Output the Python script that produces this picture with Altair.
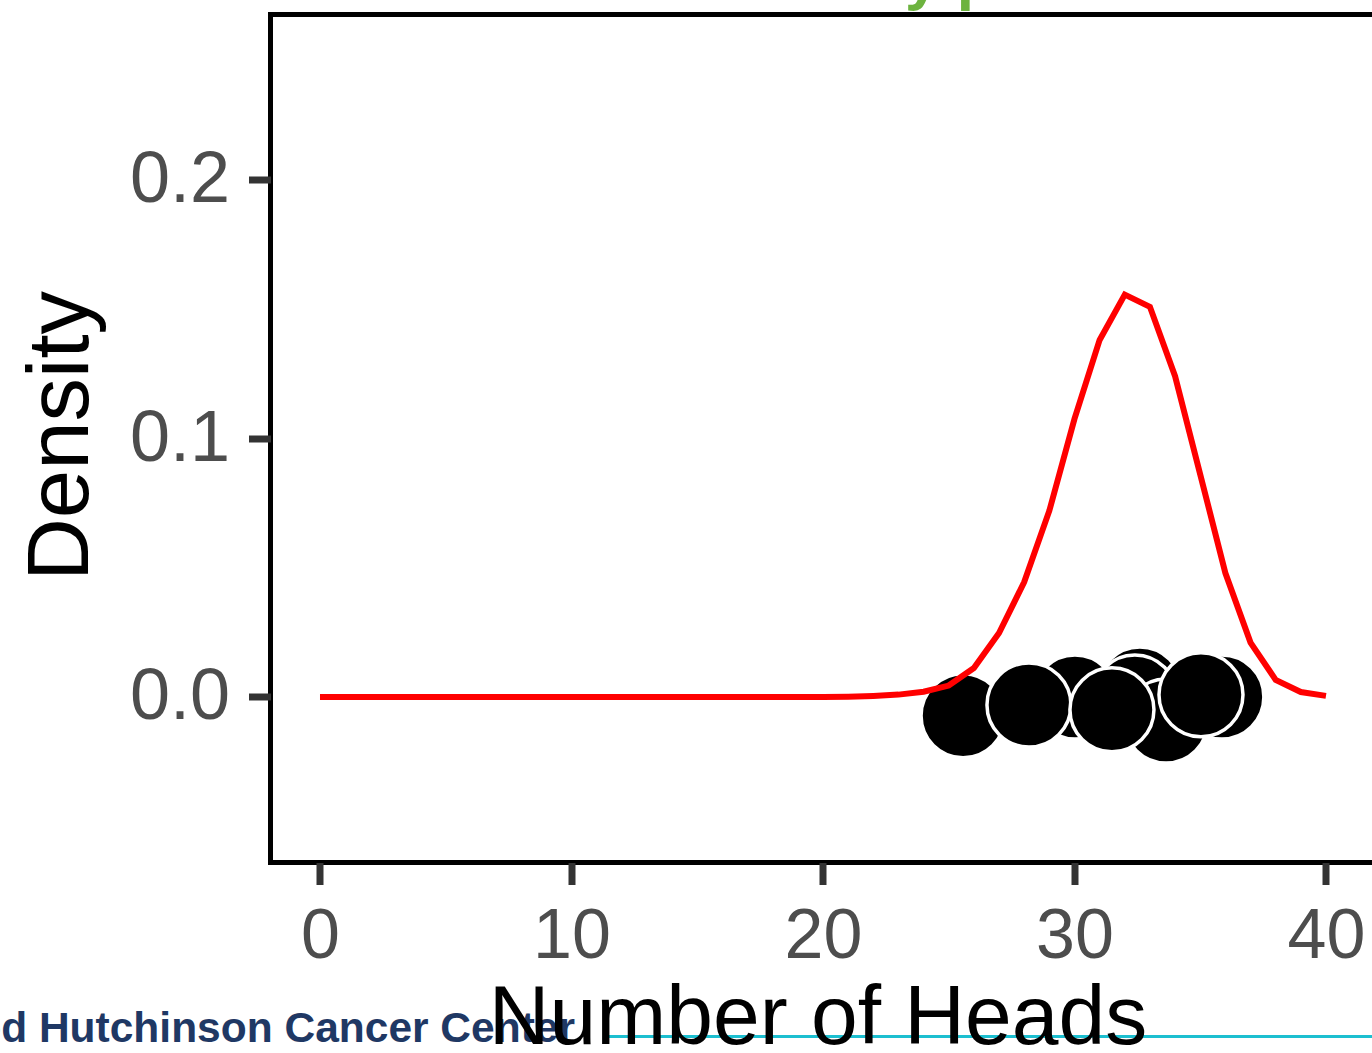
import altair as alt
import pandas as pd

# ---- data ----
heads = list(range(0, 41))
density = [0.0, 0.0, 0.0, 0.0, 0.0, 0.0, 0.0, 0.0, 0.0, 0.0,
           0.0, 0.0, 0.0, 0.0, 0.0, 0.0, 0.0, 0.0, 0.0, 0.0,
           0.0, 0.0001, 0.0004, 0.0009, 0.002, 0.0044, 0.0112, 0.0247, 0.0444, 0.072,
           0.1075, 0.138, 0.1555, 0.1508, 0.124, 0.086, 0.0479, 0.021, 0.0066, 0.0019,
           0.0004]

obs_x = [25.57, 30.02, 32.6, 32.4, 33.64, 35.86, 28.19, 31.49, 35.03]
obs_y = [-0.0073, 0.0, 0.0031, 0.0, -0.0093, 0.0, -0.0031, -0.005, 0.0008]

x_ticks = [0, 10, 20, 30, 40]
y_ticks = [0.0, 0.1, 0.2]
x_domain = [-1.968, 41.83]
y_domain = [-0.064, 0.2638]

x_title = "Number of Heads"
y_title = "Density"
footer_text = "Fred Hutchinson Cancer Center"
title_fragment = "y p"

W = 1101.5
H = 848.0
FONT = "Liberation Sans"

dens_df = pd.DataFrame({"heads": heads, "density": density})
obs_df = pd.DataFrame({"heads": obs_x, "density": obs_y})

xscale = alt.Scale(domain=x_domain, nice=False, zero=False)
yscale = alt.Scale(domain=y_domain, nice=False, zero=False)

xaxis = alt.Axis(values=x_ticks, format="d", grid=False, domain=False,
                 labelFont=FONT, labelFontSize=70, labelColor="#4d4d4d",
                 labelPadding=18, tickColor="#333333", tickWidth=7, tickSize=22,
                 title=x_title, titleFont=FONT, titleFontSize=84,
                 titleFontWeight="normal", titleColor="black",
                 titleX=547, titleY=181, titleBaseline="alphabetic",
                 titleAlign="center", zindex=1)
yaxis = alt.Axis(values=y_ticks, format=".1f", grid=False, domain=False,
                 labelFont=FONT, labelFontSize=72, labelColor="#4d4d4d",
                 labelPadding=19, tickColor="#333333", tickWidth=7, tickSize=22,
                 title=y_title, titleFont=FONT, titleFontSize=87,
                 titleFontWeight="normal", titleColor="black",
                 titleAngle=270, titleX=-183.5, titleY=421,
                 titleBaseline="alphabetic", titleAlign="center", zindex=1)

points = alt.Chart(obs_df).mark_point(
    shape="circle", filled=True, fill="black", stroke="white",
    strokeWidth=3.5, size=7056, opacity=1
).encode(
    x=alt.X("heads:Q", scale=xscale, axis=xaxis),
    y=alt.Y("density:Q", scale=yscale, axis=yaxis),
)

line = alt.Chart(dens_df).mark_line(color="#ff0000", strokeWidth=6).encode(
    x=alt.X("heads:Q", scale=xscale),
    y=alt.Y("density:Q", scale=yscale),
)

border_df = pd.DataFrame({"k": [0]})
top_rule = alt.Chart(border_df).mark_rule(color="black", strokeWidth=5, strokeCap="square").encode(
    x=alt.value(0), x2=alt.value(W + 10), y=alt.value(0))
bottom_rule = alt.Chart(border_df).mark_rule(color="black", strokeWidth=5, strokeCap="square").encode(
    x=alt.value(0), x2=alt.value(W + 10), y=alt.value(H))
left_rule = alt.Chart(border_df).mark_rule(color="black", strokeWidth=5, strokeCap="square").encode(
    x=alt.value(0), y=alt.value(0), y2=alt.value(H))

footer = alt.Chart(pd.DataFrame({"t": [footer_text]})).mark_text(
    font=FONT, fontSize=42.5, fontWeight="bold", color="#1f3864",
    align="right", baseline="alphabetic"
).encode(x=alt.value(575 - 270.5), y=alt.value(1042 - 14.5), text="t:N")

cyan = alt.Chart(border_df).mark_rule(color="#1cbfd0", strokeWidth=3).encode(
    x=alt.value(607 - 270.5), x2=alt.value(W + 10), y=alt.value(1036.5 - 14.5))

title_frag = alt.Chart(pd.DataFrame({"t": [title_fragment]})).mark_text(
    font=FONT, fontSize=62, fontWeight="bold", color="#6db33f",
    align="left", baseline="alphabetic"
).encode(x=alt.value(905 - 270.5), y=alt.value(-2 - 14.5), text="t:N")

chart = alt.layer(
    footer, cyan, title_frag, points, line, top_rule, bottom_rule, left_rule
).properties(
    width=W, height=H,
    autosize=alt.AutoSizeParams(type="none"),
    padding={"left": 270.5, "top": 14.5, "right": 0, "bottom": 1053 - 14.5 - H},
    background="white",
).configure_view(stroke=None)

chart.save("out.html", embed_options={"renderer": "svg", "actions": False})
